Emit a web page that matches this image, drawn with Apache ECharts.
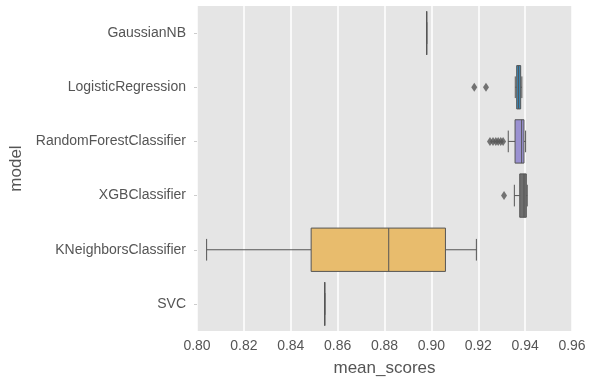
<!DOCTYPE html>
<html>
<head>
<meta charset="utf-8">
<script src="https://cdn.jsdelivr.net/npm/echarts@6/dist/echarts.min.js"></script>
<style>
  html, body { margin: 0; padding: 0; background: #fff; }
  #chart { width: 595px; height: 378px; }
</style>
</head>
<body>
<div id="chart"></div>
<script>
// models, top to bottom
var models = ['GaussianNB', 'LogisticRegression', 'RandomForestClassifier', 'XGBClassifier', 'KNeighborsClassifier', 'SVC'];
// [min whisker, q1, median, q3, max whisker]
var boxStats = [
    [0.898, 0.898, 0.898, 0.898, 0.898],
    [0.9358, 0.9364, 0.9372, 0.9381, 0.9386],
    [0.9328, 0.9357, 0.9385, 0.9395, 0.9402],
    [0.9354, 0.9377, 0.9395, 0.9405, 0.9409],
    [0.8041, 0.8487, 0.8818, 0.9060, 0.9192],
    [0.8545, 0.8545, 0.8545, 0.8545, 0.8545]
];
// outliers: [score, model]
var outliers = [
    [0.9183, 'LogisticRegression'],
    [0.9233, 'LogisticRegression'],
    [0.9250, 'RandomForestClassifier'],
    [0.9263, 'RandomForestClassifier'],
    [0.9275, 'RandomForestClassifier'],
    [0.9285, 'RandomForestClassifier'],
    [0.9296, 'RandomForestClassifier'],
    [0.9306, 'RandomForestClassifier'],
    [0.9310, 'XGBClassifier']
];
var boxColors = ['#d65a46', '#3a87b6', '#9a91d1', '#6e6e6e', '#e8bc6d', '#8cb04d'];
var xTicks = { min: 0.80, max: 0.96, step: 0.02 };

var lineColor = '#555555';

var boxData = boxStats.map(function (s, i) {
    return [i].concat(s);
});

var chart = echarts.init(document.getElementById('chart'));
var option = {
    animation: false,
    textStyle: { fontFamily: 'Liberation Sans' },
    grid: {
        left: 197, right: 23, top: 6, bottom: 47,
        outerBoundsMode: 'none',
        show: true, backgroundColor: '#e5e5e5', borderWidth: 0
    },
    xAxis: {
        type: 'value',
        min: xTicks.min,
        max: xTicks.max,
        interval: xTicks.step,
        name: 'mean_scores',
        nameLocation: 'middle',
        nameGap: 29,
        nameTextStyle: { fontSize: 17, color: '#555' },
        axisLine: { show: false },
        axisTick: { show: false },
        axisLabel: {
            fontSize: 14, color: '#555', margin: 8,
            formatter: function (v) { return v.toFixed(2); }
        },
        splitLine: { lineStyle: { color: '#fff', width: 1.5 } }
    },
    yAxis: {
        type: 'category',
        data: models,
        inverse: true,
        name: 'model',
        nameLocation: 'middle',
        nameGap: 159,
        nameTextStyle: { fontSize: 17, color: '#555' },
        axisLine: { show: false },
        axisTick: { show: true, alignWithLabel: true, length: 3, lineStyle: { color: '#cccccc' } },
        axisLabel: { fontSize: 14, color: '#555', margin: 11 },
        splitLine: { show: false }
    },
    series: [
        {
            type: 'custom',
            data: boxData,
            encode: { x: [1, 2, 3, 4, 5], y: 0 },
            renderItem: function (params, api) {
                var cat = api.value(0);
                var p = [1, 2, 3, 4, 5].map(function (d) {
                    return api.coord([api.value(d), cat]);
                });
                var y = p[0][1];
                var h = api.size([0, 1])[1] * 0.8;
                var c = h / 4;
                var st = { stroke: lineColor, lineWidth: 1, fill: null };
                return {
                    type: 'group',
                    children: [
                        { type: 'line', shape: { x1: p[0][0], y1: y, x2: p[1][0], y2: y }, style: st },
                        { type: 'line', shape: { x1: p[3][0], y1: y, x2: p[4][0], y2: y }, style: st },
                        { type: 'line', shape: { x1: p[0][0], y1: y - c, x2: p[0][0], y2: y + c }, style: st },
                        { type: 'line', shape: { x1: p[4][0], y1: y - c, x2: p[4][0], y2: y + c }, style: st },
                        {
                            type: 'rect',
                            shape: { x: p[1][0], y: y - h / 2, width: p[3][0] - p[1][0], height: h },
                            style: { fill: boxColors[params.dataIndex], stroke: lineColor, lineWidth: 1 }
                        },
                        { type: 'line', shape: { x1: p[2][0], y1: y - h / 2, x2: p[2][0], y2: y + h / 2 }, style: st }
                    ]
                };
            }
        },
        {
            type: 'scatter',
            data: outliers,
            symbol: 'diamond',
            symbolSize: [6, 9],
            itemStyle: { color: lineColor }
        }
    ]
};
chart.setOption(option);
</script>
</body>
</html>
